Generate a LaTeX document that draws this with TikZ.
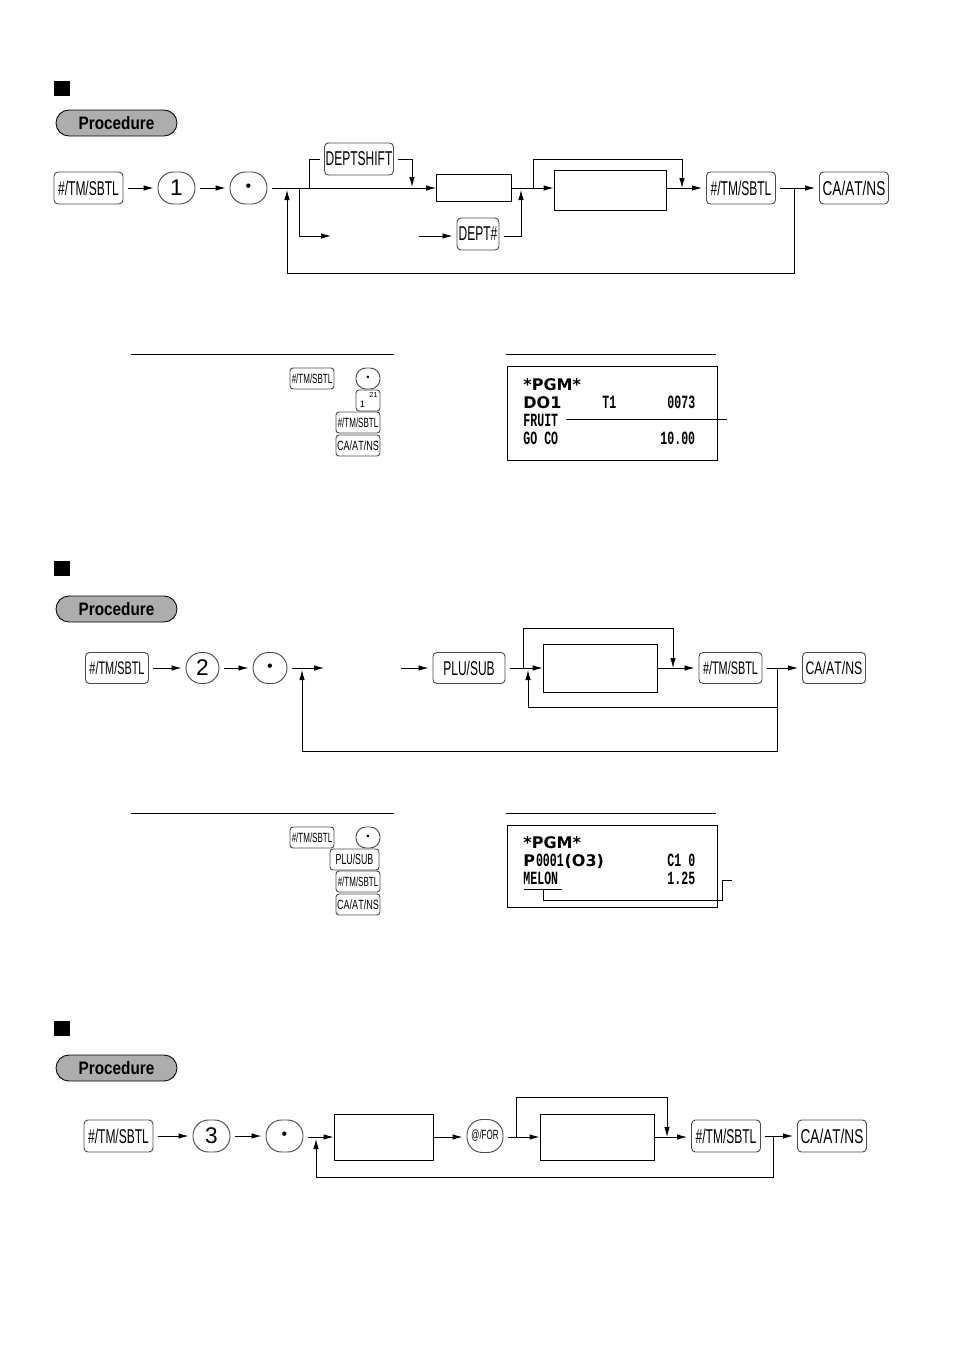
\documentclass[tikz,border=0pt]{standalone}
\usepackage{fontspec}
\setmainfont{Liberation Sans}
\newfontfamily\keyfont[FakeStretch=0.6,Kerning=Off]{Liberation Sans}
\newfontfamily\cafont[FakeStretch=0.68,Kerning=Off]{Liberation Sans}
\newfontfamily\procfont[FakeStretch=0.85]{Liberation Sans}
\newfontfamily\slipfont[FakeStretch=0.62]{Liberation Mono}
\newfontfamily\slipwide{DejaVu Sans}
\usetikzlibrary{arrows.meta}
\def\px{0.75pt}
\begin{document}
\begin{tikzpicture}[
        x=0.75pt, y=-0.75pt,
        line width=0.65pt,
        flow/.style={-{Latex[length=10*\px,width=5.5*\px]}},
        plain/.style={draw=black!70,rounded corners=4*\px,outer sep=4.5*\px,inner sep=0pt,line width=0.7pt},
        bigkey/.style={plain,minimum width=69*\px,minimum height=32*\px,font=\keyfont\fontsize{15}{15}\selectfont},
        midkey/.style={plain,minimum width=63*\px,minimum height=31*\px,font=\keyfont\fontsize{13.6}{14}\selectfont},
        smallkey/.style={plain,rounded corners=3*\px,outer sep=0pt,minimum width=44*\px,minimum height=21*\px,font=\keyfont\fontsize{10}{10}\selectfont},
        numkey/.style={plain,rounded corners=15.5*\px,minimum width=37*\px,minimum height=32*\px,font=\fontsize{17}{17}\selectfont},
        dotkey/.style={numkey,font=\fontsize{12}{12}\selectfont},
        entrybox/.style={draw,line width=0.65pt,inner sep=0pt},
        slip/.style={inner sep=0pt,anchor=base west,font=\slipfont\bfseries\fontsize{14}{14}\selectfont},
        slipbig/.style={inner sep=0pt,anchor=base west,font=\slipwide\bfseries\fontsize{12}{12}\selectfont},
    ]
    \useasboundingbox (0,0) rectangle (954,1349);

    \foreach \y/\p [count=\i] in {
        88/123, % first section
        568/609,
        1028/1068
    }
    {
        \node (mark\i) at (62,\y) [fill=black,minimum width=16*\px,minimum height=15*\px,inner sep=0pt] {};
        \node (proc\i) at (116.5,\p) [draw,fill=black!32,rounded corners=13*\px,minimum width=121*\px,minimum height=26*\px,inner sep=0pt,font=\procfont\bfseries\fontsize{13.5}{14}\selectfont] {Procedure};
    }
    \foreach \x/\w/\y [count=\i] in {
        131/263/354,
        506/210/354,
        131/263/813,
        506/210/813
    }
    {
        \coordinate (ruleL\i) at (\x,\y);
        \coordinate (ruleR\i) at (\x+\w,\y);
        \draw (ruleL\i) -- (ruleR\i);
    }

    % first procedure
    \node (hashA) at (88.5,188) [bigkey] {\#/TM/SBTL};
    \node (numA) at (176.5,188) [numkey] {1};
    \node (dotA) at (248.5,188) [dotkey] {\textbullet};
    \node (shiftA) at (359,159) [bigkey] {DEPTSHIFT};
    \node (boxA) at (474,188) [entrybox,minimum width=75*\px,minimum height=27*\px] {};
    \node (deptA) at (478,234) [bigkey,minimum width=42*\px] {DEPT\#};
    \node (boxB) at (610,190) [entrybox,minimum width=112*\px,minimum height=40*\px] {};
    \node (hashB) at (741,188) [bigkey] {\#/TM/SBTL};
    \node (caA) at (854,188) [bigkey] {\cafont CA/AT/NS};
    \coordinate (jShiftA) at (309,188);
    \coordinate (jDropA) at (412,187);
    \coordinate (jForkA) at (299,188);
    \coordinate (inA) at (331,236);
    \coordinate (outA) at (419,236);
    \coordinate (jJoinA) at (521,190);
    \coordinate (jLoopA) at (533,188);
    \coordinate (jTopA) at (682,159);
    \coordinate (jDropB) at (682,188);
    \coordinate (jBackA) at (794,188);
    \coordinate (jLowA) at (287,273);
    \coordinate (jInA) at (287,190);
    \draw [flow] (hashA) -- (numA);
    \draw [flow] (numA) -- (dotA);
    \draw [flow] (dotA) -- (boxA);
    \draw (jShiftA) |- (shiftA);
    \draw [flow] (shiftA) -| (jDropA);
    \draw [flow] (jForkA) |- (inA);
    \draw [flow] (outA) -- (deptA.west |- outA);
    \draw [flow] (deptA.east |- outA) -| (jJoinA);
    \draw [flow] (boxA) -- (boxB.west |- boxA);
    \draw (jLoopA) |- (jTopA);
    \draw [flow] (jTopA) -- (jDropB);
    \draw [flow] (boxB.east |- hashB) -- (hashB);
    \draw [flow] (hashB) -- (caA);
    \draw (jBackA) |- (jLowA);
    \draw [flow] (jLowA) -- (jInA);

    % first example
    \node (stepA) at (312,378.5) [smallkey] {\#/TM/SBTL};
    \node (stepB) at (368,378.5) [smallkey,minimum width=24*\px,rounded corners=10*\px,font=\fontsize{7}{7}\selectfont] {\textbullet};
    \node (stepC) at (368,400.5) [smallkey,minimum width=24*\px] {};
    \node (stepCa) at (362.5,404.5) [inner sep=0pt,font=\fontsize{7}{7}\selectfont] {1};
    \node (stepCb) at (373.5,394.5) [inner sep=0pt,font=\fontsize{5.5}{6}\selectfont] {21};
    \node (stepD) at (358,422.5) [smallkey] {\#/TM/SBTL};
    \node (stepE) at (358,445.5) [smallkey] {\cafont CA/AT/NS};
    \node (slipA) at (612,413) [entrybox,minimum width=210*\px,minimum height=94*\px] {};
    \node (pgmA) at (523,390) [slipbig] {*PGM*};
    \node (deptcodeA) at (523,408) [slipbig] {DO1};
    \node (taxA) at (602,408) [slip] {T1};
    \node (codeA) at (667,408) [slip] {0073};
    \node (fruit) at (523,426) [slip] {FRUIT};
    \node (goco) at (523,444) [slip] {GO CO};
    \node (priceA) at (660,444) [slip] {10.00};
    \coordinate (leadA) at (566,419);
    \coordinate (leadB) at (727,419);
    \draw (leadA) -- (leadB);

    % second procedure
    \node (hashC) at (117,668) [midkey] {\#/TM/SBTL};
    \node (numB) at (202.5,668) [numkey,minimum width=33*\px,minimum height=31*\px] {2};
    \node (dotB) at (270,668) [dotkey,minimum width=34*\px,minimum height=31*\px] {\textbullet};
    \coordinate (inB) at (324,668);
    \coordinate (outB) at (401,668);
    \node (pluA) at (469,668) [midkey,minimum width=72*\px,font=\keyfont\fontsize{15}{15}\selectfont] {PLU/SUB};
    \node (boxC) at (600,668) [entrybox,minimum width=114*\px,minimum height=48*\px] {};
    \node (hashD) at (730.5,668) [midkey] {\#/TM/SBTL};
    \node (caB) at (834,668) [midkey] {\cafont CA/AT/NS};
    \coordinate (jLoopB) at (523,668);
    \coordinate (jTopB) at (673,628);
    \coordinate (jDropC) at (673,668);
    \coordinate (jBackB) at (777,668);
    \coordinate (jMidB) at (777,707);
    \coordinate (jLowB) at (302,751);
    \coordinate (jInB) at (302,670);
    \coordinate (jLowC) at (528,707);
    \coordinate (jInC) at (528,670);
    \draw [flow] (hashC) -- (numB);
    \draw [flow] (numB) -- (dotB);
    \draw [flow] (dotB) -- (inB);
    \draw [flow] (outB) -- (pluA);
    \draw [flow] (pluA) -- (boxC);
    \draw (jLoopB) |- (jTopB);
    \draw [flow] (jTopB) -- (jDropC);
    \draw [flow] (boxC) -- (hashD);
    \draw [flow] (hashD) -- (caB);
    \draw (jBackB) |- (jLowB);
    \draw [flow] (jLowB) -- (jInB);
    \draw (jMidB) -- (jLowC);
    \draw [flow] (jLowC) -- (jInC);

    % second example
    \node (stepF) at (312,837.5) [smallkey] {\#/TM/SBTL};
    \node (stepG) at (368,837.5) [smallkey,minimum width=24*\px,rounded corners=10*\px,font=\fontsize{7}{7}\selectfont] {\textbullet};
    \node (stepH) at (354.5,859.5) [smallkey,minimum width=49*\px,font=\keyfont\fontsize{11}{11}\selectfont] {PLU/SUB};
    \node (stepI) at (358,881.5) [smallkey] {\#/TM/SBTL};
    \node (stepJ) at (358,904.5) [smallkey] {\cafont CA/AT/NS};
    \node (slipB) at (612,866) [entrybox,minimum width=210*\px,minimum height=82*\px] {};
    \node (pgmB) at (523,848) [slipbig] {*PGM*};
    \node (pluHead) at (523,866.5) [slipbig] {P};
    \node (pluNum) at (pluHead.base east) [slip] {0001};
    \node (pluTail) at (pluNum.base east) [slipbig] {(O3)};
    \node (clerk) at (667,866.5) [slip] {C1 0};
    \node (melon) at (523,884.5) [slip] {MELON};
    \node (priceB) at (667,884.5) [slip] {1.25};
    \coordinate (lineL) at (524,889);
    \coordinate (lineM) at (543,889);
    \coordinate (lineR) at (562,889);
    \coordinate (lineB) at (722,900);
    \coordinate (lineE) at (732,880);
    \draw (lineL) -- (lineR);
    \draw (lineM) |- (lineB) |- (lineE);

    % third procedure
    \node (hashE) at (118.5,1136) [bigkey] {\#/TM/SBTL};
    \node (numC) at (211.5,1136) [numkey] {3};
    \node (dotC) at (284.5,1136) [dotkey] {\textbullet};
    \node (boxD) at (383.5,1137) [entrybox,minimum width=99*\px,minimum height=46*\px] {};
    \node (forA) at (485,1136) [plain,rounded corners=15.5*\px,minimum width=36*\px,minimum height=33*\px,font=\keyfont\fontsize{10}{10}\selectfont] {@/FOR};
    \node (boxE) at (597,1137) [entrybox,minimum width=114*\px,minimum height=46*\px] {};
    \node (hashF) at (726,1136) [bigkey] {\#/TM/SBTL};
    \node (caC) at (832,1136) [bigkey] {\cafont CA/AT/NS};
    \coordinate (jLoopC) at (516,1137);
    \coordinate (jTopC) at (667,1097);
    \coordinate (jDropD) at (667,1137);
    \coordinate (jBackC) at (773,1137);
    \coordinate (jLowD) at (316,1177);
    \coordinate (jInD) at (316,1139);
    \draw [flow] (hashE) -- (numC);
    \draw [flow] (numC) -- (dotC);
    \draw [flow] (dotC.east |- boxD) -- (boxD);
    \draw [flow] (boxD) -- (forA.west |- boxD);
    \draw [flow] (forA.east |- boxE) -- (boxE);
    \draw (jLoopC) |- (jTopC);
    \draw [flow] (jTopC) -- (jDropD);
    \draw [flow] (boxE) -- (hashF.west |- boxE);
    \draw [flow] (hashF.east |- caC) -- (caC);
    \draw (jBackC) |- (jLowD);
    \draw [flow] (jLowD) -- (jInD);
\end{tikzpicture}
\end{document}
